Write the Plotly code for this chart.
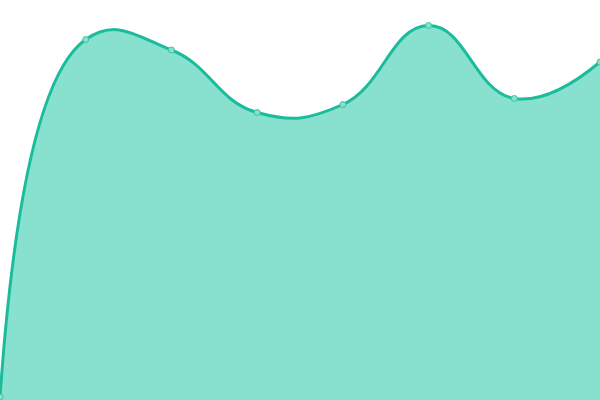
import plotly.graph_objects as go

# index of each point along the x axis, and its value
steps = [0, 1, 2, 3, 4, 5, 6, 7]
values = [3, 360.5, 350, 287.5, 295.5, 374.5, 301.5, 338]

fig = go.Figure(go.Scatter(
    x=steps,
    y=values,
    mode='lines+markers',
    line=dict(color='#1ABC9C', width=3, shape='spline', smoothing=1.3),
    marker=dict(size=6, color='#88E0CF', line=dict(color='#3CC4A6', width=1)),
    fill='tozeroy',
    fillcolor='#88E0CF',
    hoverinfo='skip',
))

fig.update_layout(
    width=600, height=400,
    margin=dict(l=0, r=0, t=0, b=0),
    paper_bgcolor='white', plot_bgcolor='white',
    showlegend=False,
    xaxis=dict(range=[0, 7], visible=False),
    yaxis=dict(range=[0, 400], visible=False),
)

# the page body has a default margin, drop it so the chart sits at the corner
fig.write_html("out.html", config={'displayModeBar': False},
               post_script="document.body.style.margin='0';")
